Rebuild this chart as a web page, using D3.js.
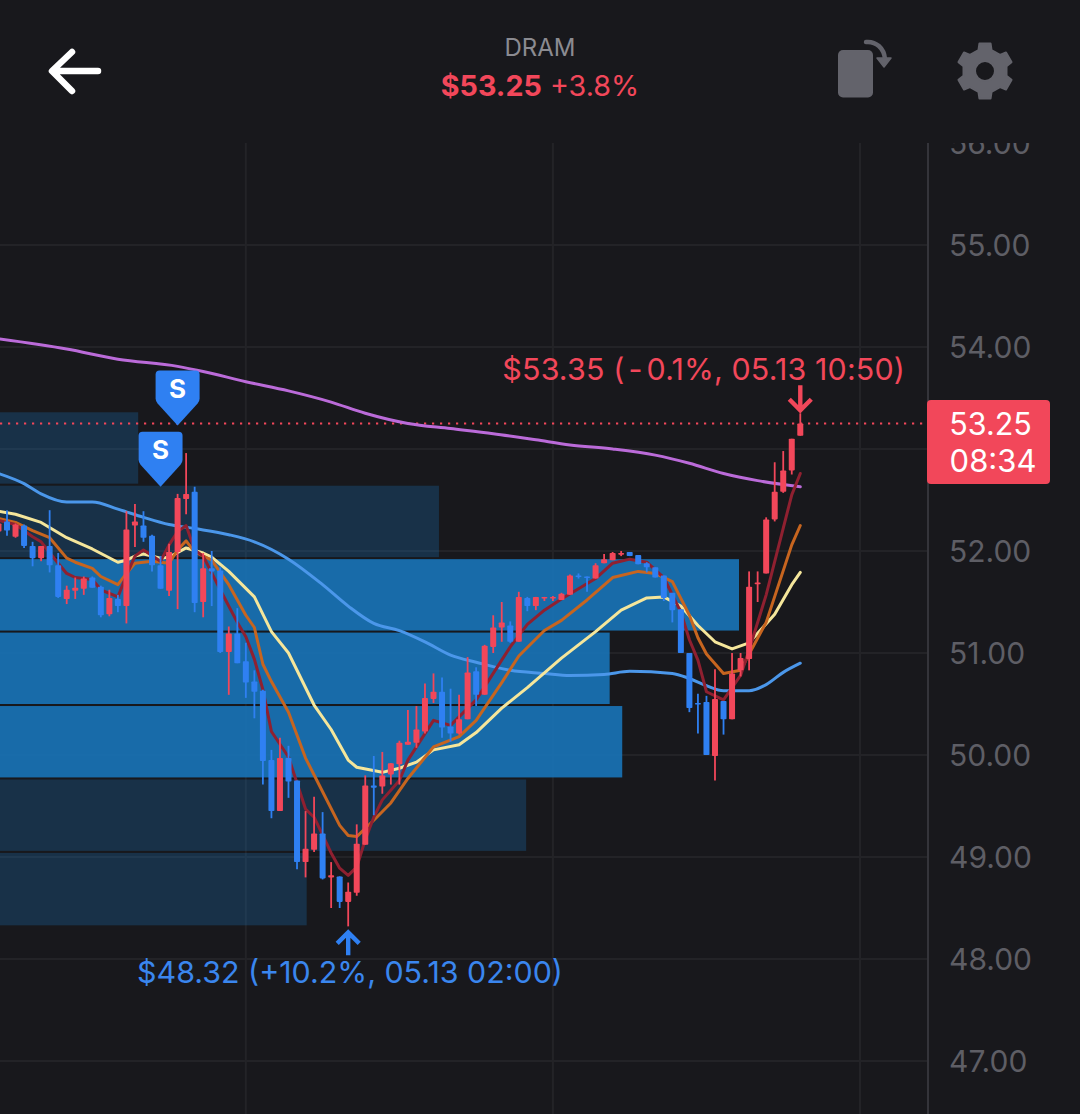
<!DOCTYPE html>
<html><head><meta charset="utf-8">
<script src="https://cdnjs.cloudflare.com/ajax/libs/d3/7.8.5/d3.min.js"></script>
<style>html,body{margin:0;padding:0;background:#18181c;overflow:hidden}svg{display:block}text{font-family:Inter,sans-serif}</style>
</head><body><svg id="c" width="1080" height="1114"></svg>
<script>
const firstIndex=-1;
const opens=[52.19,52.29,52.14,52.25,52.05,51.93,52.05,51.86,51.53,51.61,51.63,51.74,51.65,51.38,51.53,51.46,52.25,52.25,52.15,51.86,51.61,51.99,52.51,52.58,51.50,51.83,51.81,51.01,51.19,50.92,50.72,50.63,49.95,49.45,49.97,49.75,48.95,49.07,49.23,48.80,48.81,48.56,48.65,49.12,49.70,49.69,49.81,49.91,50.10,50.12,50.23,50.55,50.62,50.28,50.21,50.35,50.82,50.59,51.06,51.25,51.27,51.11,51.54,51.46,51.54,51.54,51.52,51.57,51.76,51.75,51.73,51.88,51.91,51.97,51.99,51.96,51.88,51.84,51.76,51.59,51.43,51.00,50.51,50.52,49.99,50.53,50.35,50.83,50.94,51.68,51.78,52.31,52.58,52.79,53.13];
const highs=[52.30,52.40,52.27,52.26,52.09,52.05,52.40,51.98,51.66,51.74,51.75,51.75,51.66,51.62,51.57,52.39,52.46,52.39,52.16,51.95,52.07,52.56,52.96,52.63,51.98,52.00,51.84,51.26,51.44,51.10,50.83,50.64,50.05,50.17,50.09,49.75,49.45,49.59,49.44,48.95,48.81,48.75,49.32,49.80,49.99,50.03,49.92,50.14,50.44,50.48,50.70,50.80,50.76,50.65,50.59,50.96,50.86,51.08,51.37,51.50,51.31,51.60,51.55,51.55,51.55,51.56,51.59,51.77,51.78,51.75,51.88,51.97,51.99,52.00,51.99,51.96,51.89,51.84,51.76,51.59,51.43,51.00,50.60,50.58,50.84,50.53,51.00,51.00,51.80,51.80,52.33,52.87,52.98,53.10,53.35];
const lows=[52.16,52.15,52.13,52.03,51.85,51.90,51.79,51.54,51.48,51.53,51.57,51.64,51.35,51.36,51.40,51.29,52.04,52.09,51.80,51.63,51.56,51.43,52.36,51.40,51.35,51.46,51.00,50.59,50.90,50.56,50.36,49.71,49.38,49.45,49.58,48.88,48.80,49.05,48.78,48.50,48.50,48.32,48.62,49.12,49.41,49.62,49.71,49.71,50.10,50.07,50.21,50.51,50.17,50.13,50.20,50.35,50.48,50.59,51.00,51.11,51.10,51.11,51.41,51.42,51.51,51.51,51.52,51.57,51.73,51.60,51.73,51.88,51.91,51.95,51.95,51.87,51.79,51.74,51.51,51.30,51.00,50.42,50.21,50.00,49.75,50.20,50.35,50.77,50.83,51.50,51.78,52.29,52.57,52.75,53.13];
const closes=[52.27,52.20,52.26,52.05,51.93,52.05,51.86,51.55,51.62,51.64,51.73,51.64,51.37,51.54,51.46,52.21,52.29,52.13,51.86,51.63,51.99,52.52,52.56,51.49,51.83,51.80,51.01,51.19,50.90,50.71,50.62,49.94,49.45,49.97,49.74,48.95,49.08,49.23,48.79,48.82,48.56,48.66,49.13,49.70,49.68,49.80,49.92,50.12,50.13,50.25,50.56,50.62,50.27,50.21,50.35,50.81,50.59,51.07,51.25,51.30,51.11,51.55,51.46,51.55,51.55,51.55,51.58,51.76,51.75,51.74,51.86,51.92,51.98,51.98,51.95,51.87,51.84,51.74,51.54,51.42,51.00,50.46,50.50,50.00,50.55,50.35,50.80,50.95,51.65,51.69,52.31,52.58,52.79,53.10,53.25];

const purpleIdx=[-1,7,13,20,23,28,33,38,42,47,52,57,62,66,71,76,80,84,88,93];
const purpleVal=[54.08,53.98,53.88,53.81,53.76,53.66,53.57,53.46,53.35,53.25,53.20,53.15,53.09,53.04,53.00,52.94,52.86,52.76,52.69,52.63];
const blueIdx=[-1,2,4,7,10,13,16,19,22,26,29,33,37,40,43,46,49,52,55,59,63,66,70,73,78,80,82,84,87,89,91,93];
const blueVal=[52.76,52.66,52.56,52.48,52.48,52.41,52.33,52.26,52.22,52.16,52.09,51.92,51.67,51.46,51.29,51.22,51.11,50.98,50.91,50.83,50.80,50.78,50.79,50.82,50.80,50.75,50.68,50.63,50.63,50.69,50.81,50.90];
const yellowIdx=[-1,1,4,7,10,13,14,15,16,18,19,21,23,24,26,29,31,33,36,38,40,41,44,46,48,50,53,55,58,61,65,69,72,75,77,79,81,83,85,87,90,92,93];
const yellowVal=[52.39,52.36,52.28,52.13,52.02,51.89,51.91,51.95,51.97,51.93,51.94,52.03,51.98,51.94,51.80,51.55,51.21,51.00,50.49,50.25,49.95,49.88,49.83,49.87,49.93,50.05,50.10,50.22,50.46,50.66,50.95,51.21,51.42,51.54,51.55,51.46,51.27,51.11,51.04,51.10,51.38,51.67,51.79];
const orangeIdx=[-1,1,3,5,7,8,10,11,13,14,15,17,19,20,21,22,24,26,28,29,30,31,33,35,37,39,40,41,43,45,47,50,53,55,58,60,63,65,68,71,74,76,78,80,81,82,84,86,87,89,92,93];
const orangeVal=[52.32,52.28,52.20,52.13,51.93,51.89,51.83,51.75,51.67,51.78,51.88,51.90,51.88,52.01,52.10,51.99,51.91,51.67,51.37,51.25,50.89,50.72,50.42,49.97,49.64,49.31,49.21,49.20,49.36,49.53,49.77,50.08,50.18,50.34,50.71,50.97,51.22,51.32,51.52,51.74,51.80,51.78,51.70,51.37,51.15,50.99,50.80,50.83,50.99,51.30,52.06,52.25];
const redIdx=[-1,1,3,4,6,7,8,10,11,13,14,15,16,18,19,20,21,22,23,25,27,28,29,30,31,33,35,36,38,39,40,41,42,43,44,46,47,50,52,55,57,59,61,63,65,69,71,73,75,77,79,80,81,82,84,86,87,89,92,93];
const redVal=[52.30,52.26,52.14,52.09,51.88,51.78,51.74,51.72,51.62,51.55,51.76,51.95,52.01,51.90,52.06,52.19,52.25,52.01,51.95,51.62,51.30,51.16,50.94,50.64,50.23,49.98,49.47,49.39,49.04,48.89,48.82,48.90,49.17,49.39,49.56,49.75,49.95,50.34,50.29,50.54,50.80,51.06,51.28,51.42,51.53,51.73,51.88,51.92,51.89,51.74,51.40,51.13,50.93,50.62,50.54,50.78,51.03,51.57,52.55,52.76];

const profileHigh=[53.36,52.64,51.92,51.20,50.48,49.76,49.04];
const profileLow=[52.66,51.94,51.22,50.50,49.78,49.06,48.33];
const profileVolume=[18.7,59.4,100,82.5,84.2,71.2,41.5];
const profileHot=[false,false,true,true,true,false,false];
const priceTicks=[47,48,49,50,51,52,53,54,55];
const timeGrid=[28,64,100];
const yLabelTicks=[47,48,49,50,51,52,54,55,56];
const sellIdx=[20,18];
const sellPrice=[53.23,52.63];
const lastPrice=53.25, highMark={i:93,p:53.35}, lowMark={i:40,p:48.32,t:"$48.32 (+10.2%, 05.13 02:00)"};

const RED="#f2475a",BLUE="#2f80f2",BG="#18181c";
const svg=d3.select("#c");
const x=d3.scaleLinear().domain([-1,100]).range([-1.53,860]);
const y=d3.scaleLinear().domain([47,56]).range([1061,143]);
const vol=d3.scaleLinear().domain([0,100]).range([0,739]);
svg.append("rect").attr("width",1080).attr("height",1114).attr("fill",BG);
const defs=svg.append("defs");
defs.append("clipPath").attr("id","plot").append("rect").attr("x",0).attr("y",143).attr("width",1080).attr("height",971);

const plot=svg.append("g").attr("clip-path","url(#plot)");
plot.selectAll(".gy").data(priceTicks).join("line").attr("x1",0).attr("x2",928)
  .attr("y1",d=>y(d)).attr("y2",d=>y(d)).attr("stroke","#232327").attr("stroke-width",2);
plot.selectAll(".gx").data(timeGrid).join("line").attr("x1",d=>x(d)).attr("x2",d=>x(d))
  .attr("y1",143).attr("y2",1114).attr("stroke","#232327").attr("stroke-width",2);
plot.append("line").attr("x1",928).attr("x2",928).attr("y1",143).attr("y2",1114).attr("stroke","#34343a").attr("stroke-width",2);

plot.selectAll(".pf").data(d3.range(profileHigh.length)).join("rect")
  .attr("x",0).attr("width",i=>vol(profileVolume[i]))
  .attr("y",i=>y(profileHigh[i])).attr("height",i=>y(profileLow[i])-y(profileHigh[i]))
  .attr("fill","rgb(24,116,185)").attr("fill-opacity",i=>profileHot[i]?0.9:0.28);

plot.append("line").attr("x1",0).attr("x2",928).attr("y1",y(lastPrice)).attr("y2",y(lastPrice))
  .attr("stroke",RED).attr("stroke-width",2.2).attr("stroke-dasharray","2.2 5.8");

const line=d3.line().x(d=>x(d[0])).y(d=>y(d[1]));
const smooth=d3.line().x(d=>x(d[0])).y(d=>y(d[1])).curve(d3.curveMonotoneX);
[[purpleIdx,purpleVal,"#bb6bd9",smooth],[blueIdx,blueVal,"#4b97ea",smooth],[yellowIdx,yellowVal,"#f5e69b",line],[orangeIdx,orangeVal,"#c7651f",line],[redIdx,redVal,"#8f2030",line]]
.forEach(([a,b,c,gen])=>{
  plot.append("path").attr("d",gen(d3.zip(a,b))).attr("fill","none").attr("stroke",c)
    .attr("stroke-width",3).attr("stroke-linejoin","round").attr("stroke-linecap","round");
});

const idx=d3.range(opens.length);
const color=k=>closes[k]>=opens[k]?RED:BLUE;
const xi=k=>x(firstIndex+k);
plot.selectAll(".w").data(idx).join("line").attr("x1",xi).attr("x2",xi)
  .attr("y1",k=>y(highs[k])).attr("y2",k=>y(lows[k])).attr("stroke",color).attr("stroke-width",1.8);
plot.selectAll(".b").data(idx).join("rect").attr("x",k=>xi(k)-3).attr("width",6)
  .attr("y",k=>y(Math.max(opens[k],closes[k])))
  .attr("height",k=>Math.max(1.6,Math.abs(y(opens[k])-y(closes[k]))))
  .attr("rx",0.8).attr("fill",color);

sellIdx.forEach((s,k)=>{
  const g=svg.append("g").attr("transform",`translate(${x(s)},${y(sellPrice[k])})`);
  g.append("path").attr("d","M0,0 L-20,-22 Q-22,-24.5 -22,-27 L-22,-51 Q-22,-55 -18,-55 L18,-55 Q22,-55 22,-51 L22,-27 Q22,-24.5 20,-22 Z").attr("fill",BLUE);
  g.append("text").attr("x",0).attr("y",-28).attr("text-anchor","middle").attr("font-size",26).attr("font-weight",700).attr("fill","#fff").text("S");
});

const hx=x(highMark.i),hy=y(highMark.p);
svg.append("path").attr("d",`M${hx},${hy-28} V${hy-3} M${hx-11},${hy-14} L${hx},${hy-3} L${hx+11},${hy-14}`)
  .attr("fill","none").attr("stroke",RED).attr("stroke-width",4.4);
const ht=svg.append("text").attr("x",905).attr("y",380).attr("text-anchor","end").attr("font-size",30.4).attr("fill",RED);
ht.append("tspan").text("$53.35 (");
ht.append("tspan").attr("dx",4).text("-");
ht.append("tspan").attr("dx",4).text("0.1%, 05.13 10:50)");
ht.attr("letter-spacing",0.15);
const lx=x(lowMark.i),ly=y(lowMark.p);
svg.append("path").attr("d",`M${lx},${ly+29} V${ly+6} M${lx-11},${ly+17} L${lx},${ly+6} L${lx+11},${ly+17}`)
  .attr("fill","none").attr("stroke",BLUE).attr("stroke-width",4.4);
svg.append("text").attr("x",137).attr("y",983).attr("font-size",30.4).attr("fill","#3a86ee").text(lowMark.t);

const ax=svg.append("g").attr("clip-path","url(#plot)")
  .append("g").attr("transform","translate(949,-0.5)")
  .call(d3.axisRight(y).tickValues(yLabelTicks).tickSize(0).tickPadding(0).tickFormat(d3.format(".2f")));
ax.select(".domain").remove();
ax.selectAll("text").attr("font-size",30).attr("fill","#5e5e65").attr("font-family","Inter,sans-serif").attr("dy","0.36em");

svg.append("rect").attr("x",927).attr("y",400).attr("width",123).attr("height",84).attr("rx",4).attr("fill",RED);
svg.append("text").attr("x",990.5).attr("y",435).attr("text-anchor","middle").attr("font-size",30.5).attr("fill","#fff").text(lastPrice.toFixed(2));
svg.append("text").attr("x",993).attr("y",472).attr("text-anchor","middle").attr("font-size",31).attr("fill","#fff").text("08:34");

svg.append("text").attr("x",540).attr("y",56).attr("text-anchor","middle").attr("font-size",24).attr("fill","#8b8b91").text("DRAM");
const h=svg.append("text").attr("x",540).attr("y",96).attr("text-anchor","middle").attr("font-size",28.7).attr("fill",RED);
h.append("tspan").attr("font-weight",700).text("$53.25");
h.append("tspan").text(" +3.8%");
svg.append("path").attr("d","M98,71 H54 M72,52 L52,71 L72,91").attr("fill","none").attr("stroke","#fff").attr("stroke-width",6.5).attr("stroke-linecap","round").attr("stroke-linejoin","round");
svg.append("rect").attr("x",838).attr("y",50).attr("width",35).attr("height",47.5).attr("rx",5).attr("fill","#63636b");
svg.append("path").attr("d","M866,42 C876,41 884,48 885,59").attr("fill","none").attr("stroke","#63636b").attr("stroke-width",4.5).attr("stroke-linecap","round");
svg.append("path").attr("d","M877,58 L891,58 L884,67 Z").attr("fill","#63636b").attr("stroke","#63636b").attr("stroke-width",1.5).attr("stroke-linejoin","round");
const gear=[];
for(let k=0;k<6;k++){
  const a=-Math.PI/2+k*Math.PI/3;
  [[-0.30,22],[-0.20,28],[0.20,28],[0.30,22]].forEach(([o,r])=>gear.push([985+r*Math.cos(a+o),71+r*Math.sin(a+o)]));
}
svg.append("path").attr("fill-rule","evenodd").attr("fill","#63636b").attr("stroke","#63636b").attr("stroke-width",2).attr("stroke-linejoin","round")
  .attr("d","M"+gear.map(p=>p.map(v=>v.toFixed(1)).join(",")).join("L")+"Z M995,71 A10,10 0 1,0 975,71 A10,10 0 1,0 995,71 Z");
</script></body></html>
